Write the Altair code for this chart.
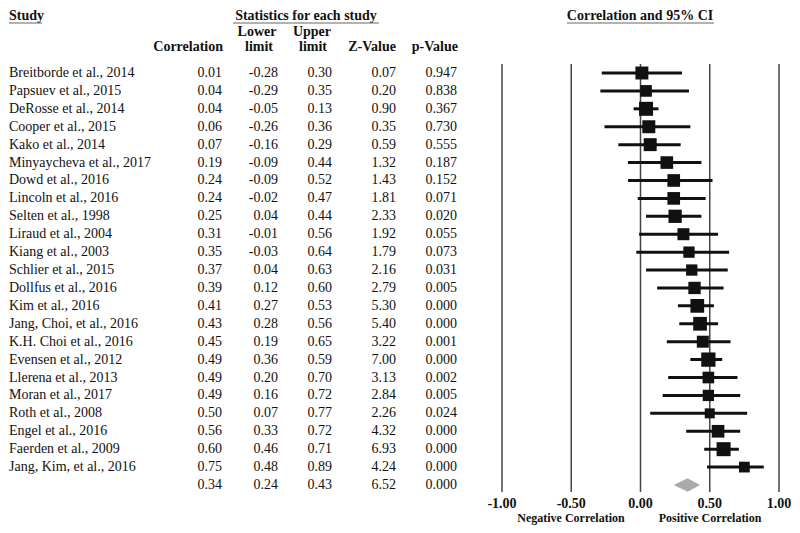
import altair as alt
import pandas as pd

# ---------------- data ----------------
studies = [
    "Breitborde et al., 2014", "Papsuev et al., 2015", "DeRosse et al., 2014",
    "Cooper et al., 2015", "Kako et al., 2014", "Minyaycheva et al., 2017",
    "Dowd et al., 2016", "Lincoln et al., 2016", "Selten et al., 1998",
    "Liraud et al., 2004", "Kiang et al., 2003", "Schlier et al., 2015",
    "Dollfus et al., 2016", "Kim et al., 2016", "Jang, Choi, et al., 2016",
    "K.H. Choi et al., 2016", "Evensen et al., 2012", "Llerena et al., 2013",
    "Moran et al., 2017", "Roth et al., 2008", "Engel et al., 2016",
    "Faerden et al., 2009", "Jang, Kim, et al., 2016",
]
correlation = [0.01, 0.04, 0.04, 0.06, 0.07, 0.19, 0.24, 0.24, 0.25, 0.31, 0.35, 0.37,
               0.39, 0.41, 0.43, 0.45, 0.49, 0.49, 0.49, 0.50, 0.56, 0.60, 0.75]
lower = [-0.28, -0.29, -0.05, -0.26, -0.16, -0.09, -0.09, -0.02, 0.04, -0.01, -0.03, 0.04,
         0.12, 0.27, 0.28, 0.19, 0.36, 0.20, 0.16, 0.07, 0.33, 0.46, 0.48]
upper = [0.30, 0.35, 0.13, 0.36, 0.29, 0.44, 0.52, 0.47, 0.44, 0.56, 0.64, 0.63,
         0.60, 0.53, 0.56, 0.65, 0.59, 0.70, 0.72, 0.77, 0.72, 0.71, 0.89]
z_values = [0.07, 0.20, 0.90, 0.35, 0.59, 1.32, 1.43, 1.81, 2.33, 1.92, 1.79, 2.16,
            2.79, 5.30, 5.40, 3.22, 7.00, 3.13, 2.84, 2.26, 4.32, 6.93, 4.24]
p_values = [0.947, 0.838, 0.367, 0.730, 0.555, 0.187, 0.152, 0.071, 0.020, 0.055, 0.073, 0.031,
            0.005, 0.000, 0.000, 0.001, 0.000, 0.002, 0.005, 0.024, 0.000, 0.000, 0.000]
weights = [4.2, 3.4, 4.9, 4.2, 4.2, 4.0, 4.0, 4.0, 4.4, 3.6, 3.2, 3.2,
           3.8, 4.7, 4.7, 3.6, 5.1, 3.4, 3.2, 2.5, 4.0, 4.9, 2.9]

summary_r, summary_lo, summary_hi, summary_z, summary_p = 0.34, 0.24, 0.43, 6.52, 0.000
tick_values = [-1.0, -0.5, 0.0, 0.5, 1.0]

# ---------------- tables ----------------
n = len(studies)
studies_df = pd.DataFrame({
    "study": studies, "r": correlation, "lo": lower, "hi": upper,
    "w": weights, "row": list(range(n)),
})
table_df = pd.DataFrame({
    "study": studies + [""],
    "r": [f"{v:.2f}" for v in correlation + [summary_r]],
    "lo": [f"{v:.2f}" for v in lower + [summary_lo]],
    "hi": [f"{v:.2f}" for v in upper + [summary_hi]],
    "z": [f"{v:.2f}" for v in z_values + [summary_z]],
    "p": [f"{v:.3f}" for v in p_values + [summary_p]],
    "row": list(range(n + 1)),
})
diamond_df = pd.DataFrame({
    "x": [summary_lo, summary_r, summary_hi],
    "y": [n, n - 0.37, n],
    "y2": [n, n + 0.37, n],
})
ticks_df = pd.DataFrame({"t": tick_values, "label": [f"{t:.2f}" for t in tick_values]})

FONT = "Liberation Serif"
XS = alt.Scale(domain=[-1, 1], range=[494, 771])
YS = alt.Scale(domain=[0, n], range=[65, 477])

base_rows = alt.Chart(table_df)

def col_text(field, xpos, align="right"):
    return base_rows.mark_text(font=FONT, fontSize=14, align=align, baseline="middle",
                               color="#111").encode(
        x=alt.value(xpos),
        y=alt.Y("row:Q", scale=YS, axis=None),
        text=f"{field}:N",
    )

layers = []
# table columns
layers.append(col_text("study", 1, align="left"))
layers.append(col_text("r", 214))
layers.append(col_text("lo", 270))
layers.append(col_text("hi", 324))
layers.append(col_text("z", 388))
layers.append(col_text("p", 449))

# headers
def header(txt, xpos, ypos, align="center", size=14, baseline="middle"):
    return alt.Chart(pd.DataFrame({"t": [txt]})).mark_text(
        font=FONT, fontSize=size, fontWeight="bold", align=align, baseline=baseline,
        color="#111").encode(x=alt.value(xpos), y=alt.value(ypos), text="t:N")

def underline(x1, x2, ypos):
    return alt.Chart(pd.DataFrame({"a": [0]})).mark_rule(color="#666", strokeWidth=1).encode(
        x=alt.value(x1), x2=alt.value(x2), y=alt.value(ypos))

layers += [
    header("Study", 1, 8, align="left"),
    header("Statistics for each study", 298, 8),
    header("Correlation and 95% CI", 632, 8),
    underline(1, 34, 15), underline(225, 371, 15), underline(559, 706, 15),
    header("Correlation", 215, 39, align="right"),
    header("Lower", 249, 24), header("limit", 251, 39),
    header("Upper", 304, 24), header("limit", 305, 39),
    header("Z-Value", 388, 39, align="right"),
    header("p-Value", 450, 39, align="right"),
]

# forest plot
vlines = alt.Chart(ticks_df).mark_rule(color="#444", strokeWidth=1.5).encode(
    x=alt.X("t:Q", scale=XS, axis=None), y=alt.value(56), y2=alt.value(484))
ci = alt.Chart(studies_df).mark_rule(color="#111", strokeWidth=3).encode(
    x=alt.X("lo:Q", scale=XS, axis=None), x2="hi:Q",
    y=alt.Y("row:Q", scale=YS, axis=None))
squares = alt.Chart(studies_df).mark_square(color="#111", opacity=1, filled=True).encode(
    x=alt.X("r:Q", scale=XS, axis=None),
    y=alt.Y("row:Q", scale=YS, axis=None),
    size=alt.Size("w:Q", scale=alt.Scale(domain=[0, 5], range=[0, 200]), legend=None))
diamond = alt.Chart(diamond_df).mark_area(color="#aaaaaa", opacity=1).encode(
    x=alt.X("x:Q", scale=XS, axis=None),
    y=alt.Y("y:Q", scale=YS, axis=None), y2="y2:Q")
tick_labels = alt.Chart(ticks_df).mark_text(
    font=FONT, fontSize=14, fontWeight="bold", baseline="middle", color="#111").encode(
    x=alt.X("t:Q", scale=XS, axis=None), y=alt.value(496), text="label:N")

layers += [vlines, ci, squares, diamond, tick_labels,
           header("Negative Correlation", 563, 510, size=12),
           header("Positive Correlation", 702, 510, size=12)]

chart = alt.layer(*layers).properties(
    width=784, height=517, padding=0, background="white",
    autosize=alt.AutoSizeParams(type="none"),
).configure_view(stroke=None, strokeWidth=0)

chart.save("out.html", embed_options={"renderer": "svg", "actions": False})
